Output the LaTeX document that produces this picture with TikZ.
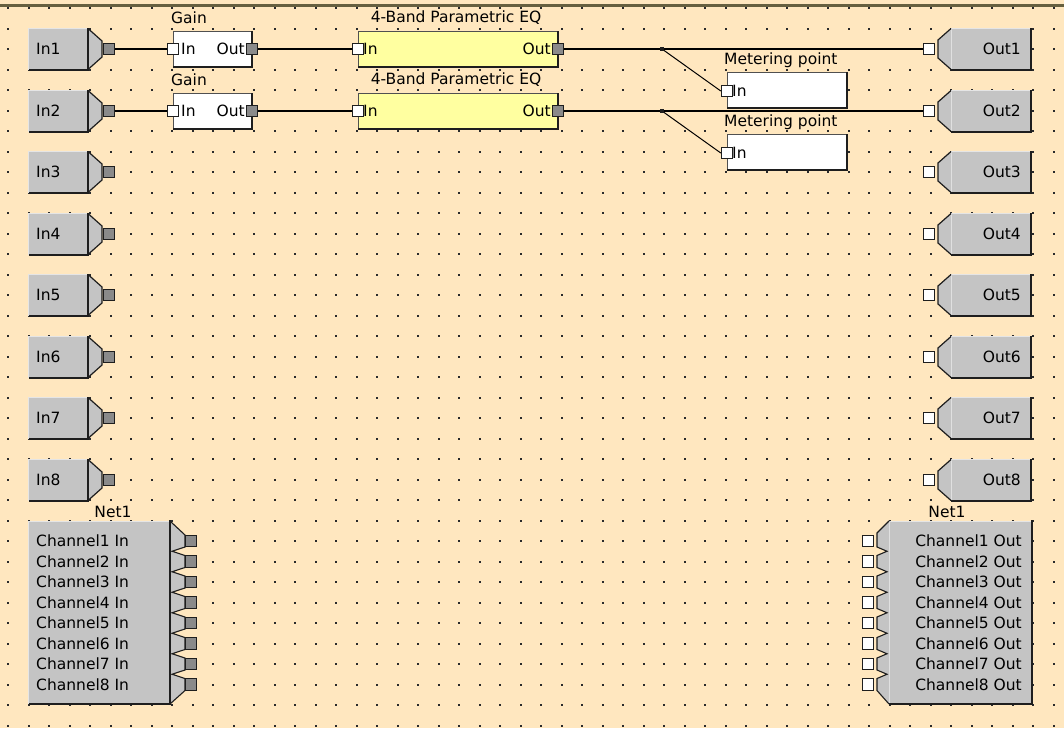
\documentclass[tikz,border=0pt]{standalone}
\usepackage{fontspec}
\usetikzlibrary{calc}
\setmainfont{DejaVu Sans}
\definecolor{bgc}{HTML}{FFE7BF}
\definecolor{dotc}{HTML}{2A2A2A}
\definecolor{boxg}{HTML}{C4C4C4}
\definecolor{edge}{HTML}{1E1E1E}
\definecolor{thinedge}{HTML}{505050}
\definecolor{eqy}{HTML}{FFFFA0}
\definecolor{topl}{HTML}{66603F}
\definecolor{portg}{HTML}{8A8A8A}
\tikzset{
  txt/.style={font=\fontsize{15.5}{17}\selectfont, inner sep=0pt, text=black},
  outport/.style={draw=edge, fill=portg, minimum size=11.5pt, inner sep=0pt, line width=1pt},
  inport/.style={draw=edge, fill=white, minimum size=11.5pt, inner sep=0pt, line width=1pt},
  wire/.style={draw=black, line width=1.2pt},
  darkedge/.style={draw=edge, line width=2pt},
  thinframe/.style={draw=thinedge, line width=1pt},
  lightedge/.style={draw=white!80!gray, line width=1pt},
  hornedge/.style={draw=edge, line width=1.2pt},
}
\begin{document}
\begin{tikzpicture}[x=1pt,y=-1pt]
\useasboundingbox (0,0) rectangle (1064,728);
\fill[bgc] (0,0) rectangle (1064,728);
% grid dots
\foreach \i in {0,...,51}{
  \foreach \j in {0,...,35}{
    \fill[dotc] ({8+20.5*\i-1},{8+20.5*\j-1}) rectangle ++(2,2);
  }
}
% top border
\draw[topl, line width=3pt] (0,5) -- (1064,5);

% rows of In / Out boxes
\foreach \i in {1,...,8}{
  \pgfmathsetmacro{\c}{round(49+61.5*(\i-1))}
  % In box
  \fill[boxg] (28.5,\c-20.5) rectangle (88,\c+20.5);
  \draw[lightedge] (28.5,\c+20.5) -- (28.5,\c-20.5) -- (88,\c-20.5);
  \fill[boxg] (88,\c-20.5) -- (102,\c-8) -- (102,\c+8) -- (88,\c+20.5) -- cycle;
  \draw[hornedge] (88,\c-20.5) -- (102,\c-8) -- (102,\c+8) -- (88,\c+20.5);
  \draw[darkedge] (88,\c-21) -- (88,\c+20.5) -- (28.5,\c+20.5);
  \node[outport] (inp\i) at (109,\c) {};
  \node[txt, anchor=west] (inl\i) at (36,\c) {In\i};
  % Out box
  \fill[boxg] (951,\c-20.5) rectangle (1031,\c+20.5);
  \draw[lightedge] (951,\c+20.5) -- (951,\c-20.5) -- (1031,\c-20.5);
  \fill[boxg] (951,\c-20.5) -- (938,\c-9) -- (938,\c+9) -- (951,\c+20.5) -- cycle;
  \draw[hornedge] (951,\c-20.5) -- (938,\c-9) -- (938,\c+9) -- (951,\c+20.5);
  \draw[darkedge] (1031,\c-21) -- (1031,\c+20.5) -- (951,\c+20.5);
  \node[inport] (op\i) at (929,\c) {};
  \node[txt, anchor=east] (outl\i) at (1021,\c) {Out\i};
}

% processing chains on rows 1 and 2
\foreach \i in {1,2}{
  \pgfmathsetmacro{\c}{round(49+61.5*(\i-1))}
  % Gain
  \fill[white] (173,\c-18) rectangle (252,\c+18);
  \draw[thinframe] (173,\c+18) -- (173,\c-18) -- (252,\c-18);
  \draw[darkedge] (252,\c-18) -- (252,\c+18) -- (173,\c+18);
  \node[txt, anchor=west] (gainlab\i) at (171,\c-31) {Gain};
  \node[inport] (gi\i) at (173,\c) {};
  \node[outport] (go\i) at (252,\c) {};
  \node[txt, anchor=west] at (181,\c) {In};
  \node[txt, anchor=east] at (245,\c) {Out};
  % EQ
  \fill[eqy] (358,\c-18) rectangle (558,\c+18);
  \draw[thinframe] (358,\c+18) -- (358,\c-18) -- (558,\c-18);
  \draw[darkedge] (558,\c-18) -- (558,\c+18) -- (358,\c+18);
  \node[txt] (eqlab\i) at (456,\c-31) {4-Band Parametric EQ};
  \node[inport] (ei\i) at (358,\c) {};
  \node[outport] (eo\i) at (558,\c) {};
  \node[txt, anchor=west] at (363,\c) {In};
  \node[txt, anchor=east] at (551,\c) {Out};
  % Metering point
  \fill[white] (727,\c+23) rectangle (847,\c+59);
  \draw[thinframe] (727,\c+59) -- (727,\c+23) -- (847,\c+23);
  \draw[darkedge] (847,\c+23) -- (847,\c+59) -- (727,\c+59);
  \node[txt, anchor=west] (mlab\i) at (724,\c+11) {Metering point};
  \node[inport] (mp\i) at (727,\c+42) {};
  \node[txt, anchor=west] at (732,\c+42) {In};
  % junction
  \coordinate (jn\i) at (662,\c);
  % wires
  \draw[wire] (inp\i.east) -- (gi\i.west);
  \draw[wire] (go\i.east) -- (ei\i.west);
  \draw[wire] (eo\i.east) -- (jn\i) -- (op\i.west);
  \draw[black, line width=1pt] (jn\i) -- (mp\i.west);
  \fill[edge] ($(jn\i)+(-1.8,-1.8)$) rectangle ++(3.6,3.6);
}

% Net1 input block (left)
\fill[boxg] (28.5,521) rectangle (170,704);
\draw[lightedge] (28.5,704) -- (28.5,521) -- (170,521);
\filldraw[fill=boxg, draw=edge, line width=1.1pt]
  (170,521) -- (185,535)
  \foreach \k in {1,...,7}{
    -- (185,{520.5+20.5*\k+6}) -- (172,{520.5+20.5*\k+10.25}) -- (185,{520.5+20.5*\k+14.5})
  }
  -- (185,{520.5+20.5*8+6}) -- (170,704);
\draw[darkedge] (170,520) -- (170,704) -- (28.5,704);
\node[txt] (netl) at (113,512) {Net1};
\foreach \k in {1,...,8}{
  \node[outport] (np\k) at (191,{520.5+20.5*\k}) {};
  \node[txt, anchor=west] (nl\k) at (36,{520.5+20.5*\k}) {Channel\k{} In};
}

% Net1 output block (right)
\fill[boxg] (889,521) rectangle (1032,704);
\draw[lightedge] (889,704) -- (889,521) -- (1032,521);
\filldraw[fill=boxg, draw=edge, line width=1.1pt]
  (889,521) -- (877,533)
  \foreach \k in {1,...,7}{
    -- (877,{520.5+20.5*\k+6}) -- (887,{520.5+20.5*\k+10.25}) -- (877,{520.5+20.5*\k+14.5})
  }
  -- (877,{520.5+20.5*8+6}) -- (889,704);
\draw[darkedge] (1032,520) -- (1032,704) -- (889,704);
\node[txt] (netr) at (947,512) {Net1};
\foreach \k in {1,...,8}{
  \node[inport] (nq\k) at (868,{520.5+20.5*\k}) {};
  \node[txt, anchor=east] (nr\k) at (1022,{520.5+20.5*\k}) {Channel\k{} Out};
}
\end{tikzpicture}
\end{document}
